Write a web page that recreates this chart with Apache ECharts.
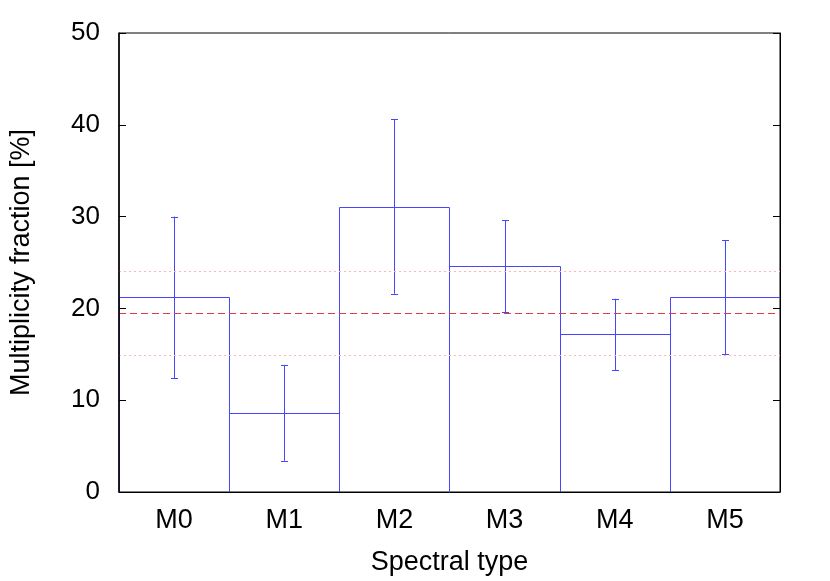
<!DOCTYPE html>
<html>
<head>
<meta charset="utf-8">
<script src="https://cdn.jsdelivr.net/npm/echarts@6/dist/echarts.min.js"></script>
<style>html,body{margin:0;padding:0;background:#fff}#c{width:830px;height:581px}</style>
</head>
<body>
<div id="c"></div>
<script>
var categories = ['M0', 'M1', 'M2', 'M3', 'M4', 'M5'];
var fractions = [21.2, 8.6, 31.1, 24.6, 17.2, 21.2];
var errLow = [12.4, 3.4, 21.6, 19.6, 13.25, 15.0];
var errHigh = [30.0, 13.8, 40.6, 29.6, 21.05, 27.4];
var meanLine = 19.45;
var meanLow = 14.9;
var meanHigh = 24.1;
var yTicks = [0, 10, 20, 30, 40, 50];

var FONT = '"Liberation Sans", Arial, sans-serif';
var BLUE = '#4646ff';

function px(v) { return Math.round(v) + 0.5; }

var chart = echarts.init(document.getElementById('c'));
chart.setOption({
  animation: false,
  grid: { left: 119, right: 50, top: 33, bottom: 89, show: true, borderColor: '#000', borderWidth: 1, backgroundColor: 'transparent' },
  xAxis: {
    type: 'category',
    data: categories,
    boundaryGap: true,
    z: 10,
    axisLine: { lineStyle: { color: '#000', width: 1 } },
    axisTick: { show: false },
    axisLabel: { color: '#000', fontSize: 27, fontFamily: FONT, margin: 15 },
    name: 'Spectral type',
    nameLocation: 'middle',
    nameGap: 57,
    nameTextStyle: { color: '#000', fontSize: 27, fontFamily: FONT }
  },
  yAxis: [{
    type: 'value',
    min: yTicks[0], max: yTicks[yTicks.length - 1], interval: 10,
    z: 10,
    splitLine: { show: false },
    axisLine: { show: true, lineStyle: { color: '#000', width: 1.5 } },
    axisTick: { show: true, inside: true, length: 7, lineStyle: { color: '#000' } },
    axisLabel: { color: '#000', fontSize: 26, fontFamily: FONT, margin: 19 },
    name: 'Multiplicity fraction [%]',
    nameLocation: 'middle',
    nameGap: 84,
    nameTextStyle: { color: '#000', fontSize: 27, fontFamily: FONT }
  }, {
    type: 'value', position: 'right',
    min: yTicks[0], max: yTicks[yTicks.length - 1], interval: 10,
    z: 10,
    splitLine: { show: false },
    axisLine: { show: true, lineStyle: { color: '#000', width: 1 } },
    axisTick: { show: true, inside: true, length: 7, lineStyle: { color: '#000' } },
    axisLabel: { show: false }
  }],
  series: [{
    type: 'custom',
    data: fractions.map(function (v, i) { return [i, v]; }),
    z: 3,
    renderItem: function (params, api) {
      var top = api.coord([api.value(0), api.value(1)]);
      var base = api.coord([api.value(0), 0]);
      var half = api.size([1, 0])[0] / 2;
      var x0 = px(top[0] - half), x1 = px(top[0] + half);
      var yT = px(top[1]), yB = base[1];
      return { type: 'polyline', shape: { points: [[x0, yB], [x0, yT], [x1, yT], [x1, yB]] },
        style: { stroke: BLUE, lineWidth: 1, fill: null } };
    },
    markLine: {
      silent: true,
      symbol: 'none',
      label: { show: false },
      data: [
        { yAxis: meanLine, lineStyle: { color: '#e03c3c', type: [7, 4], width: 1 } },
        { yAxis: meanHigh, lineStyle: { color: '#ffb4b4', type: [2, 3], width: 1 } },
        { yAxis: meanLow, lineStyle: { color: '#ffb4b4', type: [2, 3], width: 1 } }
      ]
    }
  }, {
    type: 'custom',
    data: categories.map(function (c, i) { return [i, errLow[i], errHigh[i]]; }),
    z: 4,
    renderItem: function (params, api) {
      var lo = api.coord([api.value(0), api.value(1)]);
      var hi = api.coord([api.value(0), api.value(2)]);
      var w = 3.5;
      var x = px(lo[0]);
      var st = { stroke: BLUE, lineWidth: 1 };
      return { type: 'group', children: [
        { type: 'line', shape: { x1: x, y1: lo[1], x2: x, y2: hi[1] }, style: st },
        { type: 'line', shape: { x1: x - w, y1: px(lo[1]), x2: x + w, y2: px(lo[1]) }, style: st },
        { type: 'line', shape: { x1: x - w, y1: px(hi[1]), x2: x + w, y2: px(hi[1]) }, style: st }
      ]};
    }
  }]
});
</script>
</body>
</html>
